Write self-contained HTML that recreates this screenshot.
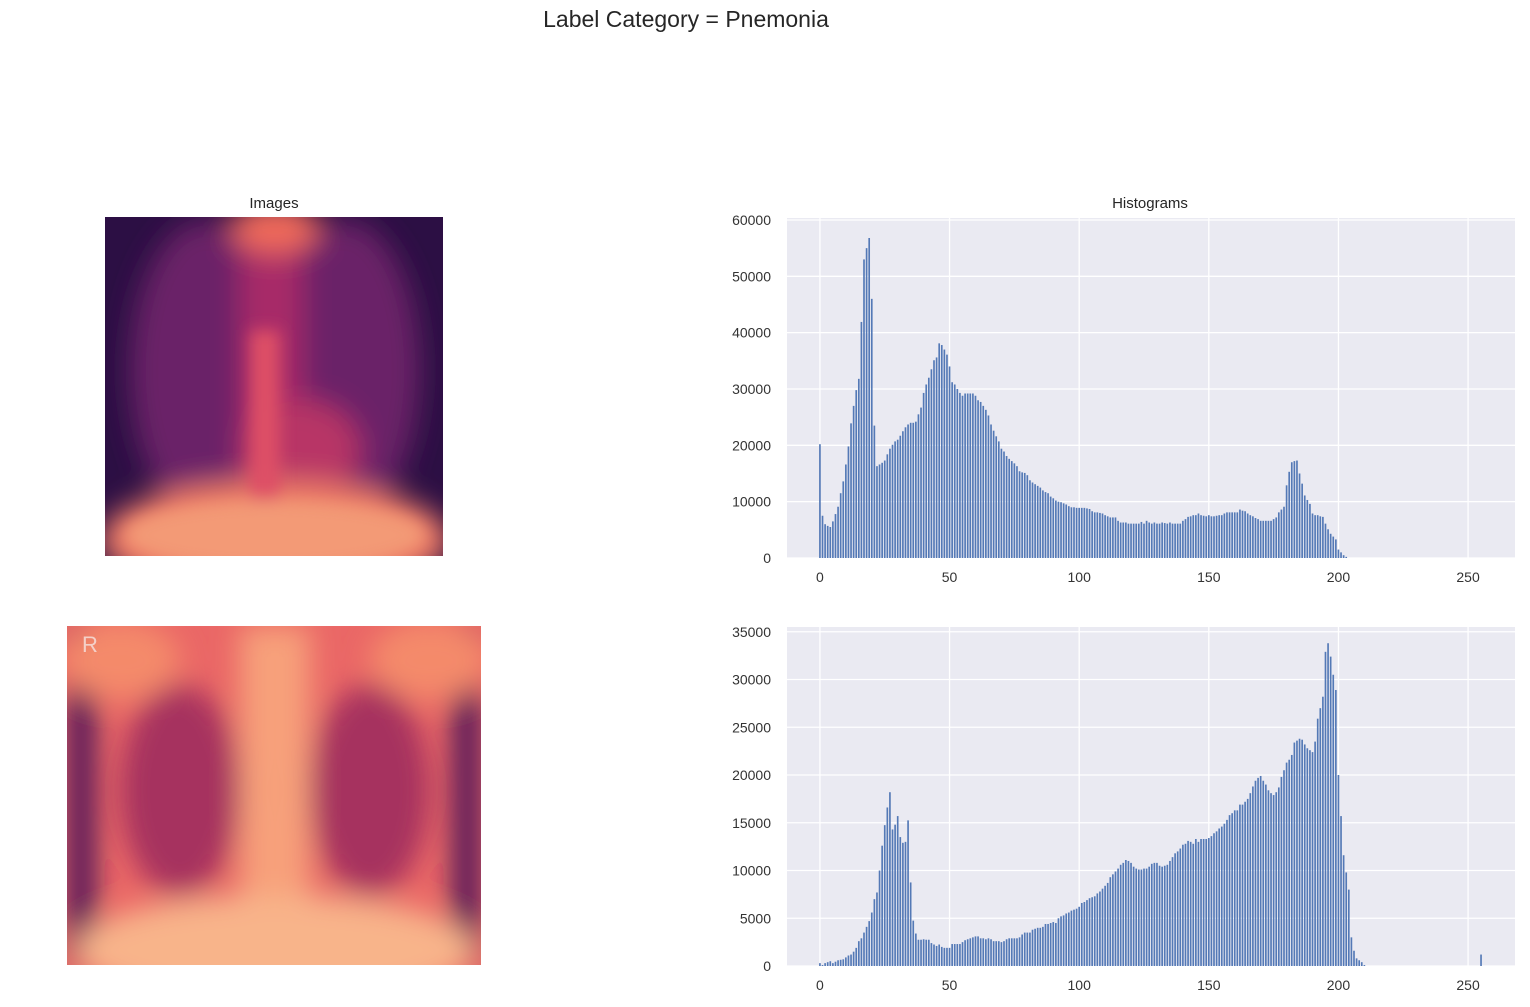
<!DOCTYPE html>
<html><head><meta charset="utf-8">
<style>
html,body{margin:0;padding:0;background:#fff;}
body{width:1530px;height:1002px;position:relative;overflow:hidden;font-family:"Liberation Sans",sans-serif;}
</style></head>
<body>
<svg id="root" width="1530" height="1002" xmlns="http://www.w3.org/2000/svg">
<defs>
 <filter id="b8"><feGaussianBlur stdDeviation="8"/></filter>
 <filter id="b4"><feGaussianBlur stdDeviation="4"/></filter>
 <filter id="b14"><feGaussianBlur stdDeviation="14"/></filter>
 <clipPath id="c1"><rect x="105" y="217" width="338" height="339"/></clipPath>
 <clipPath id="c2"><rect x="67" y="626" width="414" height="339"/></clipPath>
</defs>
<text x="686" y="27" text-anchor="middle" font-size="23" fill="#262626">Label Category = Pnemonia</text>
<text x="274" y="208" text-anchor="middle" font-size="15" fill="#262626">Images</text>
<text x="1150" y="208" text-anchor="middle" font-size="15" fill="#262626">Histograms</text>

<g clip-path="url(#c1)">
 <rect x="105" y="217" width="338" height="339" fill="#2c0f44"/>
 <g filter="url(#b14)">
  <ellipse cx="205" cy="370" rx="75" ry="150" fill="#6a2068"/>
  <ellipse cx="345" cy="370" rx="75" ry="150" fill="#6a2068"/>
  <rect x="240" y="217" width="62" height="339" fill="#a82c68"/>
  <ellipse cx="275" cy="228" rx="45" ry="25" fill="#f06a5a"/>
  <ellipse cx="300" cy="450" rx="60" ry="50" fill="#b83466"/>
  <ellipse cx="275" cy="540" rx="175" ry="60" fill="#ec7a66"/>
 </g>
 <g filter="url(#b8)">
  <rect x="250" y="330" width="30" height="226" fill="#de4f66"/>
  <ellipse cx="275" cy="535" rx="150" ry="35" fill="#f39a76"/>
 </g>
</g>

<g clip-path="url(#c2)">
 <rect x="67" y="626" width="414" height="339" fill="#ea6766"/>
 <g filter="url(#b14)">
  <rect x="67" y="626" width="28" height="339" fill="#4a1658"/>
  <rect x="453" y="626" width="28" height="339" fill="#4a1658"/>
  <ellipse cx="180" cy="790" rx="60" ry="105" fill="#a6305e"/>
  <ellipse cx="370" cy="790" rx="60" ry="105" fill="#a6305e"/>
  <rect x="240" y="626" width="70" height="339" fill="#f7a07a"/>
  <ellipse cx="275" cy="950" rx="200" ry="55" fill="#f8b48a"/>
  <ellipse cx="120" cy="660" rx="60" ry="40" fill="#f48a6a"/>
  <ellipse cx="430" cy="660" rx="60" ry="40" fill="#f48a6a"/>
 </g>
 <text x="82" y="652" font-size="22" fill="#f4d0c8">R</text>
</g>

<g id="ax1"></g>
<g id="ax2"></g>
</svg>
<script>
const topCounts = [20.2,7.5,6.0,5.7,5.5,6.5,7.8,9.1,11.5,13.6,16.6,19.8,23.9,27,29.8,31.8,41.9,53.0,55,56.8,46.0,23.5,16.3,16.6,16.9,17.3,18.4,19.4,20.1,20.7,21.0,21.7,22.5,23.2,23.7,24.0,24.0,24.2,25.5,26.7,29.3,30.8,32.0,33.5,35.1,35.6,38.1,37.8,37.0,36.1,34.0,31.2,30.8,30.0,29.3,28.8,29.2,29.2,29.2,29.2,28.8,28.0,27.7,27.0,26.3,25.3,23.7,22.6,21.6,20.7,19.4,18.9,18.1,17.6,17.2,16.8,16.3,15.4,15.2,15.1,14.7,13.8,13.4,13.1,12.8,12.5,12.0,11.7,11.5,10.9,10.6,10.2,10.0,9.9,9.7,9.5,9.2,9.0,9.0,8.9,8.9,8.9,8.9,8.8,8.7,8.3,8.1,8.1,8.0,7.9,7.6,7.4,7.2,7.2,7.2,6.6,6.3,6.3,6.3,6.1,6.1,6.1,6.1,6.1,6.4,6.1,6.6,6.3,6.1,6.3,6.1,6.1,6.3,6.2,6.1,6.3,6.1,6.1,6.1,6.1,6.6,6.9,7.3,7.4,7.6,7.6,7.9,7.6,7.5,7.4,7.6,7.4,7.4,7.5,7.6,7.6,7.9,8.1,8.1,8.1,8.1,8.1,8.6,8.4,8.3,7.9,7.6,7.4,7.1,6.9,6.6,6.6,6.6,6.6,6.6,6.9,7.2,8.1,8.6,9.1,12.9,15.3,17.0,17.2,17.3,15.0,13.2,11.1,10.3,9.6,7.9,7.6,7.6,7.4,7.3,6.1,5.1,4.3,3.8,3.3,1.5,1.0,0.5,0.2,0,0,0,0,0,0,0,0,0,0,0,0,0,0,0,0,0,0,0,0,0,0,0,0,0,0,0,0,0,0,0,0,0,0,0,0,0,0,0,0,0,0,0,0,0,0,0,0,0,0,0,0,0];
const bottomCounts = [0.3,0.1,0.3,0.4,0.5,0.3,0.45,0.6,0.65,0.7,0.9,1.1,1.2,1.5,1.9,2.6,2.9,3.5,4.1,4.7,5.6,7.0,7.7,10.0,12.6,14.75,16.6,18.2,14.3,14.8,15.7,13.5,12.9,13.0,15.25,8.75,4.75,3.4,2.75,2.75,2.8,2.75,2.75,2.4,2.25,2.1,2.25,2.0,1.9,1.9,1.9,2.3,2.3,2.3,2.3,2.5,2.7,2.8,2.9,3.0,3.1,3.1,2.9,2.9,2.8,2.9,2.8,2.6,2.6,2.6,2.5,2.6,2.8,2.9,2.9,2.9,2.9,3.0,3.3,3.5,3.5,3.5,3.8,3.9,4.0,4.0,4.1,4.4,4.4,4.5,4.6,4.5,5.0,5.2,5.3,5.5,5.6,5.8,5.9,6.0,6.2,6.6,6.7,6.9,7.1,7.2,7.3,7.6,7.8,8.1,8.4,8.7,9.3,9.6,9.9,10.2,10.6,10.8,11.1,11.0,10.8,10.4,10.2,10.1,10.1,10.2,10.2,10.4,10.7,10.8,10.8,10.5,10.4,10.5,10.6,11.0,11.4,11.8,12.0,12.3,12.7,12.8,13.1,13.0,12.8,13.3,13.0,13.3,13.3,13.3,13.4,13.6,13.9,14.1,14.4,14.6,14.9,15.3,15.8,16.0,16.3,16.3,16.9,16.9,17.2,17.5,18.1,18.8,19.4,19.7,19.9,19.4,19.0,18.4,18.1,17.9,18.2,18.7,19.8,20.5,21.3,21.6,22.1,23.4,23.6,23.8,23.7,23.2,22.8,22.6,22.4,23.5,25.9,27.0,28.2,32.9,33.8,32.4,30.5,28.9,20.0,15.7,11.6,9.8,8.0,3.0,1.6,0.8,0.6,0.4,0.1,0,0,0,0,0,0,0,0,0,0,0,0,0,0,0,0,0,0,0,0,0,0,0,0,0,0,0,0,0,0,0,0,0,0,0,0,0,0,0,0,0,0,0,0,1.2];
const xTicks = [0,50,100,150,200,250];
const topYTicks = [0,10000,20000,30000,40000,50000,60000];
const bottomYTicks = [0,5000,10000,15000,20000,25000,30000,35000];

const NS = "http://www.w3.org/2000/svg";
function mk(tag, attrs, parent){const e=document.createElementNS(NS,tag);for(const k in attrs)e.setAttribute(k,attrs[k]);parent.appendChild(e);return e;}

function drawHist(g, counts, yTicks, box, yMax, name){
  const xMin=-12.7, xMax=268.1;
  const sx = v => box.x + (v - xMin)/(xMax - xMin)*box.w;
  const sy = v => box.y + box.h - v/yMax*box.h;
  const bg = mk('rect',{x:box.x,y:box.y,width:box.w,height:box.h,fill:'#eaeaf2'},g);
  
  
  xTicks.forEach(t=>{
    const l=mk('line',{x1:sx(t),x2:sx(t),y1:box.y,y2:box.y+box.h,stroke:'#fff','stroke-width':1.3},g);
    
    
    const tx=mk('text',{x:sx(t),y:box.y+box.h+24,'text-anchor':'middle','font-size':14,fill:'#333'},g);
    tx.textContent=t;
    
    
  });
  yTicks.forEach(t=>{
    const l=mk('line',{x1:box.x,x2:box.x+box.w,y1:sy(t),y2:sy(t),stroke:'#fff','stroke-width':1.3},g);
    
    
    const tx=mk('text',{x:box.x-16,y:sy(t)+5,'text-anchor':'end','font-size':14,fill:'#333'},g);
    tx.textContent=t;
    
    
  });
  const bw = (sx(1)-sx(0));
  counts.forEach((c,i)=>{
    if(c<=0) return;
    const v=c*1000;
    const r=mk('rect',{x:sx(i)-bw*0.32,y:sy(v),width:bw*0.64,height:sy(0)-sy(v),fill:'#5479b6'},g);
    
    
  });
}
drawHist(document.getElementById('ax1'), topCounts, topYTicks, {x:787,y:218,w:728,h:340}, 60350, 'top-hist');
drawHist(document.getElementById('ax2'), bottomCounts, bottomYTicks, {x:787,y:627,w:728,h:339}, 35500, 'bottom-hist');
</script>
</body></html>
